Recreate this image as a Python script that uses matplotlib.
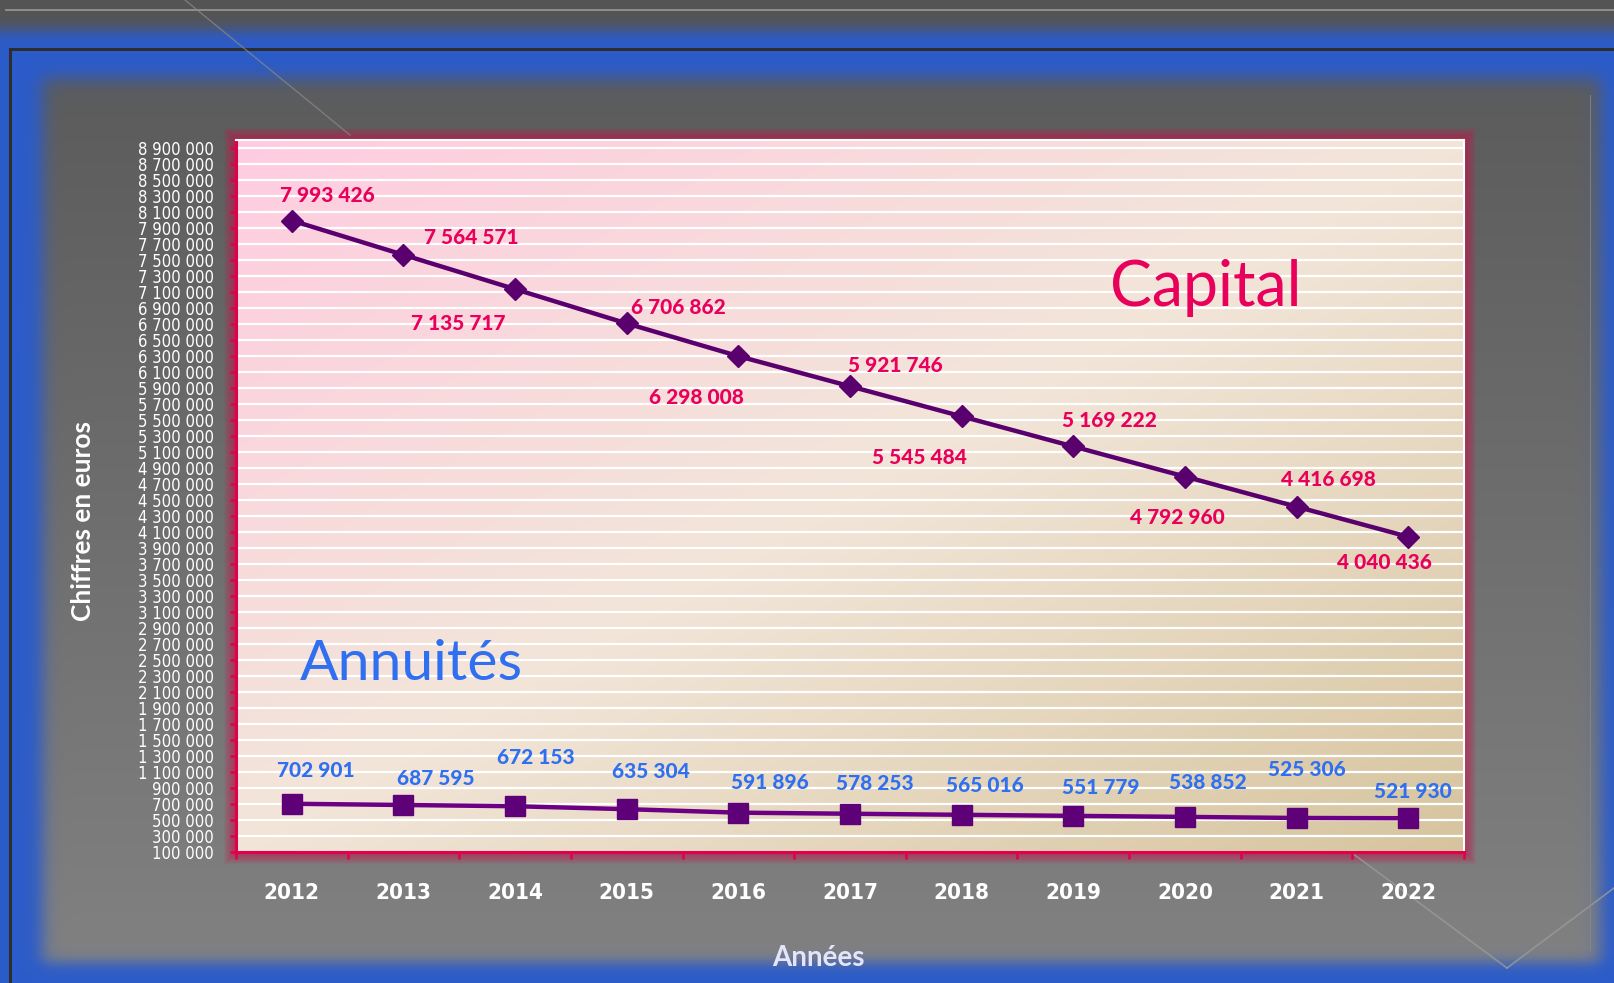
import numpy as np
import matplotlib.pyplot as plt
from matplotlib.patches import Rectangle
from matplotlib.ticker import FixedLocator

# donnees
annees = ["2012", "2013", "2014", "2015", "2016", "2017", "2018", "2019", "2020", "2021", "2022"]
capital = [7993426, 7564571, 7135717, 6706862, 6298008, 5921746, 5545484, 5169222, 4792960, 4416698, 4040436]
annuites = [702901, 687595, 672153, 635304, 591896, 578253, 565016, 551779, 538852, 525306, 521930]
yticks = list(range(100000, 9000001, 200000))

# decalage des etiquettes (pixels)
off_cap = [(36, 25), (68, 17), (-57, -34), (52, 16), (-42, -41), (45, 21),
           (-42, -41), (36, 26), (-8, -41), (32, 27), (-24, -26)]
off_ann = [(24, 33), (32, 26), (21, 49), (24, 38), (32, 30), (25, 30),
           (23, 29), (27, 28), (23, 34), (10, 48), (5, 27)]

W, H = 1614, 983
fig = plt.figure(figsize=(W / 100, H / 100), dpi=100)

def fmt(v):
    return f"{v:,}".replace(",", " ")

def sig(z):
    return 1 / (1 + np.exp(-z))

# fond
yy, xx = np.mgrid[0:H, 0:W].astype(float)
blue = np.array([0.17, 0.36, 0.79])
g = (0x58 + (0x82 - 0x58) * yy / H) / 255
panel = np.dstack([g, g, g])
m = sig((xx - 42) / 5) * sig((1600 - xx) / 5) * sig((yy - 78) / 5) * sig((962 - yy) / 4)
img = m[..., None] * panel + (1 - m[..., None]) * blue
tm = sig((30 - yy) / 4)[..., None]
img = tm * np.array([0.33, 0.33, 0.33]) + (1 - tm) * img
img[48:51, 10:] = 0.18
img[48:, 9:12] = 0.18
img[9:11, 5:] = 0.55

bg = fig.add_axes([0, 0, 1, 1])
bg.imshow(img, extent=[0, W, H, 0], aspect="auto", interpolation="bilinear")
bg.set_xlim(0, W)
bg.set_ylim(H, 0)
bg.axis("off")
bg.plot([185, 350], [0, 135], color="#8a8a8a", lw=1, alpha=0.7)
bg.plot([1352, 1507], [853, 968], color="#9a9a9a", lw=1.2, alpha=0.8)
bg.plot([1507, 1614], [968, 888], color="#9a9a9a", lw=1.2, alpha=0.8)
bg.plot([1590, 1590], [95, 950], color="#8a8a8a", lw=0.8, alpha=0.7)

L, T, R, B = 236, 140, 1464, 852
for i in range(12, 0, -1):
    bg.add_patch(Rectangle((L - i, T - i), R - L + 2 * i, B - T + 2 * i,
                           color="#d0104a", alpha=0.07, lw=0))

ax = fig.add_axes([L / W, (H - B) / H, (R - L) / W, (B - T) / H])
ax.set_xlim(-0.5, 10.5)
ax.set_ylim(100000, 9000000)

# degrade de la zone de trace
u = np.linspace(0, 1, 200)
gx, gy = np.meshgrid(u, u)
d = (gx + gy) / 2
c0 = np.array([1.0, 0.80, 0.88])
c1 = np.array([0.95, 0.90, 0.85])
c2 = np.array([0.84, 0.77, 0.62])
d1 = np.clip(d / 0.5, 0, 1)[..., None]
d2 = np.clip((d - 0.5) / 0.5, 0, 1)[..., None]
grad = np.where(d[..., None] < 0.5, c0 + (c1 - c0) * d1, c1 + (c2 - c1) * d2)
ax.imshow(grad, extent=[0, 1, 0, 1], transform=ax.transAxes, aspect="auto",
          zorder=0, interpolation="bilinear")

for v in yticks:
    ax.axhline(v, color="white", lw=1.6, zorder=1)

x = np.arange(len(annees))
ax.plot(x, capital, color="#5a006e", lw=3.2, marker="D", markersize=11,
        markerfacecolor="#5a006e", markeredgecolor="#5a006e", zorder=3)
ax.plot(x, annuites, color="#6c0084", lw=3.2, marker="s", markersize=14,
        markerfacecolor="#5e0078", markeredgecolor="#5e0078", zorder=3)

for i in range(len(annees)):
    ax.annotate(fmt(capital[i]), (x[i], capital[i]), xytext=off_cap[i],
                textcoords="offset pixels", ha="center", va="center",
                color="#e8005a", fontsize=15, fontweight="black", family="Lato", zorder=4)
    ax.annotate(fmt(annuites[i]), (x[i], annuites[i]), xytext=off_ann[i],
                textcoords="offset pixels", ha="center", va="center",
                color="#2f70f0", fontsize=15, fontweight="black", family="Lato", zorder=4)

ax.text(0.79, 0.792, "Capital", transform=ax.transAxes, ha="center", va="center",
        color="#e8005a", fontsize=45, family="Lato", zorder=4)
ax.text(0.143, 0.264, "Annuités", transform=ax.transAxes, ha="center", va="center",
        color="#2f6ff0", fontsize=41, family="Lato", zorder=4)

ax.set_yticks(yticks)
ax.set_yticklabels([fmt(v) for v in yticks], color="white", fontsize=12,
                   family="DejaVu Sans", fontstretch="condensed")
ax.set_xticks(x)
ax.set_xticklabels(annees, color="white", fontsize=16, fontweight="bold",
                   family="DejaVu Sans", fontstretch="condensed")
ax.xaxis.set_minor_locator(FixedLocator(np.arange(-0.5, 11, 1)))
ax.tick_params(axis="x", which="major", length=0, pad=22)
ax.tick_params(axis="x", which="minor", length=5, width=1.8, color="#e0004c", direction="out")
ax.tick_params(axis="y", length=4, width=1.8, color="#e0004c", direction="out", pad=12)

for s in ["left", "bottom"]:
    ax.spines[s].set_color("#e0004c")
    ax.spines[s].set_linewidth(2.2)
for s in ["top", "right"]:
    ax.spines[s].set_color("white")
    ax.spines[s].set_linewidth(1.5)

fig.text(83 / W, 1 - 521 / H, "Chiffres en euros", rotation=90, ha="center", va="center",
         color="white", fontsize=19, fontweight="bold", family="Lato")
fig.text(818 / W, 1 - 958 / H, "Années", ha="center", va="center",
         color="#e4e4fa", fontsize=20, fontweight="bold", family="Lato")

fig.savefig("out.png", dpi=100)
